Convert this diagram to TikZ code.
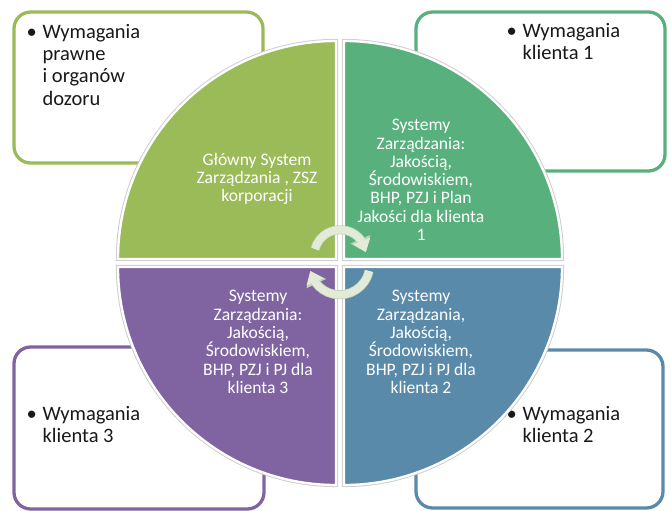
\documentclass[tikz,border=0pt]{standalone}
\usepackage{fontspec}
\setmainfont{Carlito}
\usetikzlibrary{arrows.meta, bending, positioning, calc}

\definecolor{qolive}{HTML}{9BBB59}
\definecolor{qgreen}{HTML}{58B17D}
\definecolor{qblue}{HTML}{5A8AAA}
\definecolor{qpurple}{HTML}{8064A2}
\definecolor{cycpale}{HTML}{E2EBD8}
\definecolor{cycedge}{HTML}{C2D2B4}

\begin{document}
\begin{tikzpicture}[
    x=0.03cm, y=-0.03cm,
    % --- cajas de requisitos ---
    reqbox/.style  = {rectangle, rounded corners=5mm, line width=2.8pt,
                      fill=white, inner sep=0pt},
    reqtext/.style = {font=\fontsize{17.5}{19}\selectfont, text=black!90,
                      inner sep=0pt, anchor=base west},
    % --- cuartos del circulo ---
    quarter/.style = {fill=#1, draw=white, line width=2pt,
                      preaction={draw=gray!40, line width=3.6pt}},
    qtext/.style   = {font=\fontsize{15}{15.6}\selectfont, text=white,
                      align=center, inner sep=0pt},
    cyc/.style     = {draw=cycpale, line width=6.5pt,
                      -{Triangle[width=0pt 2.3, length=0pt 1.55]},
                      preaction={draw=cycedge, line width=7.7pt}}
]
\useasboundingbox (0,0) rectangle (671,511);

% ===================== CAJAS DE REQUISITOS =====================
\node[reqbox, draw=qolive,  minimum width=7.47cm, minimum height=4.53cm] (legalbox) at (138.5,87.5) {};
\node[reqbox, draw=qgreen,  minimum width=7.47cm, minimum height=4.77cm] (cl1box)   at (540.5,91.5) {};
\node[reqbox, draw=qpurple, minimum width=7.50cm, minimum height=4.86cm] (cl3box)   at (139,428)    {};
\node[reqbox, draw=qblue,   minimum width=7.41cm, minimum height=4.74cm] (cl2box)   at (539.5,429)  {};

\node[reqtext] (legal) at ($(legalbox.north west)+(14,28)$)
    {\begin{tabular}[t]{@{}l@{\hspace{5pt}}l@{}}\textbullet & Wymagania\\ & prawne\\ & i organów\\ & dozoru\end{tabular}};
\node[reqtext] (cl1) at ($(cl1box.north west)+(92,27)$)
    {\begin{tabular}[t]{@{}l@{\hspace{5pt}}l@{}}\textbullet & Wymagania\\ & klienta 1\end{tabular}};
\node[reqtext] (cl3) at ($(cl3box.north west)+(14,75)$)
    {\begin{tabular}[t]{@{}l@{\hspace{5pt}}l@{}}\textbullet & Wymagania\\ & klienta 3\end{tabular}};
\node[reqtext] (cl2) at ($(cl2box.north west)+(92,72)$)
    {\begin{tabular}[t]{@{}l@{\hspace{5pt}}l@{}}\textbullet & Wymagania\\ & klienta 2\end{tabular}};

% ===================== CIRCULO CENTRAL =====================
\coordinate (hub) at (340,263);
\path[quarter=qolive]  ($(hub)+(-4,-4)$) -- ++(-218,0) arc[start angle=180, end angle=270, radius=218] -- cycle;
\path[quarter=qgreen]  ($(hub)+(4,-4)$)  -- ++(0,-218) arc[start angle=270, end angle=360, radius=218] -- cycle;
\path[quarter=qblue]   ($(hub)+(4,4)$)   -- ++(218,0)  arc[start angle=0,   end angle=90,  radius=218] -- cycle;
\path[quarter=qpurple] ($(hub)+(-4,4)$)  -- ++(0,218)  arc[start angle=90,  end angle=180, radius=218] -- cycle;

\node[qtext] (zsz)  at (257,179) {Główny System\\ Zarządzania , ZSZ\\ korporacji};
\node[qtext] (sys1) at (421,180) {Systemy\\ Zarządzania:\\ Jakością,\\ Środowiskiem,\\ BHP, PZJ i Plan\\ Jakości dla klienta\\ 1};
\node[qtext] (sys2) at (421,342) {Systemy\\ Zarządzania,\\ Jakością,\\ Środowiskiem,\\ BHP, PZJ i PJ dla\\ klienta 2};
\node[qtext] (sys3) at (258,342) {Systemy\\ Zarządzania:\\ Jakością,\\ Środowiskiem,\\ BHP, PZJ i PJ dla\\ klienta 3};

% Flechas del ciclo
\draw[cyc] ($(hub)+(-25,-14)$) arc[start angle=195, end angle=352, radius=26];
\draw[cyc] ($(hub)+(29,8)$)    arc[start angle=12,  end angle=168, radius=30];

\end{tikzpicture}
\end{document}
